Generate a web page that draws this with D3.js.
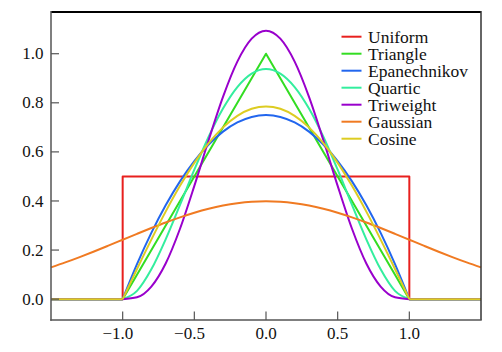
<!DOCTYPE html>
<html>
<head>
<meta charset="utf-8">
<script src="https://cdn.jsdelivr.net/npm/d3@7"></script>
<style>
  body { margin: 0; background: #fff; }
</style>
</head>
<body>
<svg id="chart" width="502" height="352"></svg>
<script>
// kernel values (x grid in steps of 0.1)
var xInner = [-1.0,-0.9,-0.8,-0.7,-0.6,-0.5,-0.4,-0.3,-0.2,-0.1,0.0,0.1,0.2,0.3,0.4,0.5,0.6,0.7,0.8,0.9,1.0];
var xFull = [-1.5,-1.4,-1.3,-1.2,-1.1,-1.0,-0.9,-0.8,-0.7,-0.6,-0.5,-0.4,-0.3,-0.2,-0.1,0.0,0.1,0.2,0.3,0.4,0.5,0.6,0.7,0.8,0.9,1.0,1.1,1.2,1.3,1.4,1.5];

var uniformX = [-1.5,-1.0,-1.0,1.0,1.0,1.5];
var uniformY = [0,0,0.5,0.5,0,0];
var triangleX = [-1.5,-1.0,0.0,1.0,1.5];
var triangleY = [0,0,1.0,0,0];
var epanechnikov = [0,0.1425,0.27,0.3825,0.48,0.5625,0.63,0.6825,0.72,0.7425,0.75,0.7425,0.72,0.6825,0.63,0.5625,0.48,0.3825,0.27,0.1425,0];
var quartic = [0,0.0338,0.1215,0.2438,0.384,0.5273,0.6615,0.7763,0.864,0.9188,0.9375,0.9188,0.864,0.7763,0.6615,0.5273,0.384,0.2438,0.1215,0.0338,0];
var triweight = [0,0.0075,0.051,0.1451,0.2867,0.4614,0.6483,0.8242,0.9677,1.0613,1.0938,1.0613,0.9677,0.8242,0.6483,0.4614,0.2867,0.1451,0.051,0.0075,0];
var gaussian = [0.1295,0.1497,0.1714,0.1942,0.2179,0.242,0.2661,0.2897,0.3123,0.3332,0.3521,0.3683,0.3814,0.391,0.397,0.3989,0.397,0.391,0.3814,0.3683,0.3521,0.3332,0.3123,0.2897,0.2661,0.242,0.2179,0.1942,0.1714,0.1497,0.1295];
var cosine = [0,0.1229,0.2427,0.3566,0.4617,0.5554,0.6354,0.6998,0.747,0.7757,0.7854,0.7757,0.747,0.6998,0.6354,0.5554,0.4617,0.3566,0.2427,0.1229,0];

var names = ["Uniform","Triangle","Epanechnikov","Quartic","Triweight","Gaussian","Cosine"];
var colors = ["#e8201e","#33dd22","#2266ee","#33ee9e","#9900cc","#f07a22","#ddcc22"];
var xTicks = [-1.0,-0.5,0.0,0.5,1.0];
var yTicks = [0.0,0.2,0.4,0.6,0.8,1.0];

var FONT = "Liberation Serif";

var svg = d3.select("#chart");
var x = d3.scaleLinear().domain([-1.5,1.5]).range([51,481]);
var y = d3.scaleLinear().domain([-0.085,1.17]).range([320,12]);

function zip(xs, ys){ return xs.map(function(v,i){ return [v, ys[i]]; }); }

var lin = d3.line().x(function(d){ return x(d[0]); }).y(function(d){ return y(d[1]); });
var smooth = d3.line().x(function(d){ return x(d[0]); }).y(function(d){ return y(d[1]); }).curve(d3.curveMonotoneX);

var plot = svg.append("g").attr("class","plot");

function drawLine(pathStr, color){
  plot.append("path").attr("d", pathStr)
    .attr("fill","none").attr("stroke", color)
    .attr("stroke-width", 2).attr("stroke-linejoin","round");
}

// compact kernels: smooth part on [-1,1], flat tails outside
function drawCompact(vals, color){
  drawLine(lin([[-1.5,0],[-1,0]]), color);
  drawLine(lin([[1,0],[1.5,0]]), color);
  drawLine(smooth(zip(xInner, vals)), color);
}

drawLine(lin(zip(uniformX, uniformY)), colors[0]);
drawLine(lin(zip(triangleX, triangleY)), colors[1]);
drawCompact(epanechnikov, colors[2]);
drawCompact(quartic, colors[3]);
drawCompact(triweight, colors[4]);
drawLine(smooth(zip(xFull, gaussian)), colors[5]);
drawCompact(cosine, colors[6]);

// frame
svg.append("line").attr("x1",51).attr("x2",481).attr("y1",12).attr("y2",12).attr("stroke","#000").attr("stroke-width",2);
svg.append("line").attr("x1",481).attr("x2",481).attr("y1",11).attr("y2",320).attr("stroke","#333").attr("stroke-width",1.5);
svg.append("line").attr("x1",51).attr("x2",51).attr("y1",11).attr("y2",320.75).attr("stroke","#555").attr("stroke-width",1.5);
svg.append("line").attr("x1",50.25).attr("x2",481.75).attr("y1",320).attr("y2",320).attr("stroke","#555").attr("stroke-width",1.5);

// y ticks
var yg = svg.append("g");
yTicks.forEach(function(t){
  yg.append("line").attr("x1",51).attr("x2",59).attr("y1",y(t)).attr("y2",y(t)).attr("stroke","#555").attr("stroke-width",1.2);
  yg.append("text").attr("x",43.5).attr("y",y(t)).attr("dy","0.33em")
    .attr("text-anchor","end").style("font-family",FONT).attr("font-size",17).attr("fill","#111").text(t.toFixed(1));
});

// x ticks: number centred on the tick, minus sign hanging to the left
var xg = svg.append("g");
xTicks.forEach(function(t){
  var px = x(t);
  xg.append("line").attr("x1",px).attr("x2",px).attr("y1",320).attr("y2",311.5).attr("stroke","#555").attr("stroke-width",1.2);
  var lab = xg.append("text").attr("x",px).attr("y",338.5)
    .attr("text-anchor","middle").style("font-family",FONT).attr("font-size",17).attr("fill","#111").text(Math.abs(t).toFixed(1));
  if (t < 0) {
    var w = lab.node().getComputedTextLength();
    xg.append("text").attr("x",px - w/2).attr("y",338.5)
      .attr("text-anchor","end").style("font-family",FONT).attr("font-size",17).attr("fill","#111").text("\u2212");
  }
});

// legend
var leg = svg.append("g");
names.forEach(function(n,i){
  var ly = 36.7 + i*17;
  leg.append("line").attr("x1",341.5).attr("x2",361.5).attr("y1",ly).attr("y2",ly)
    .attr("stroke",colors[i]).attr("stroke-width",2);
  leg.append("text").attr("x",368).attr("y",ly).attr("dy","0.36em")
    .style("font-family",FONT).attr("font-size",17.5).attr("fill","#111").text(n);
});
</script>
</body>
</html>
